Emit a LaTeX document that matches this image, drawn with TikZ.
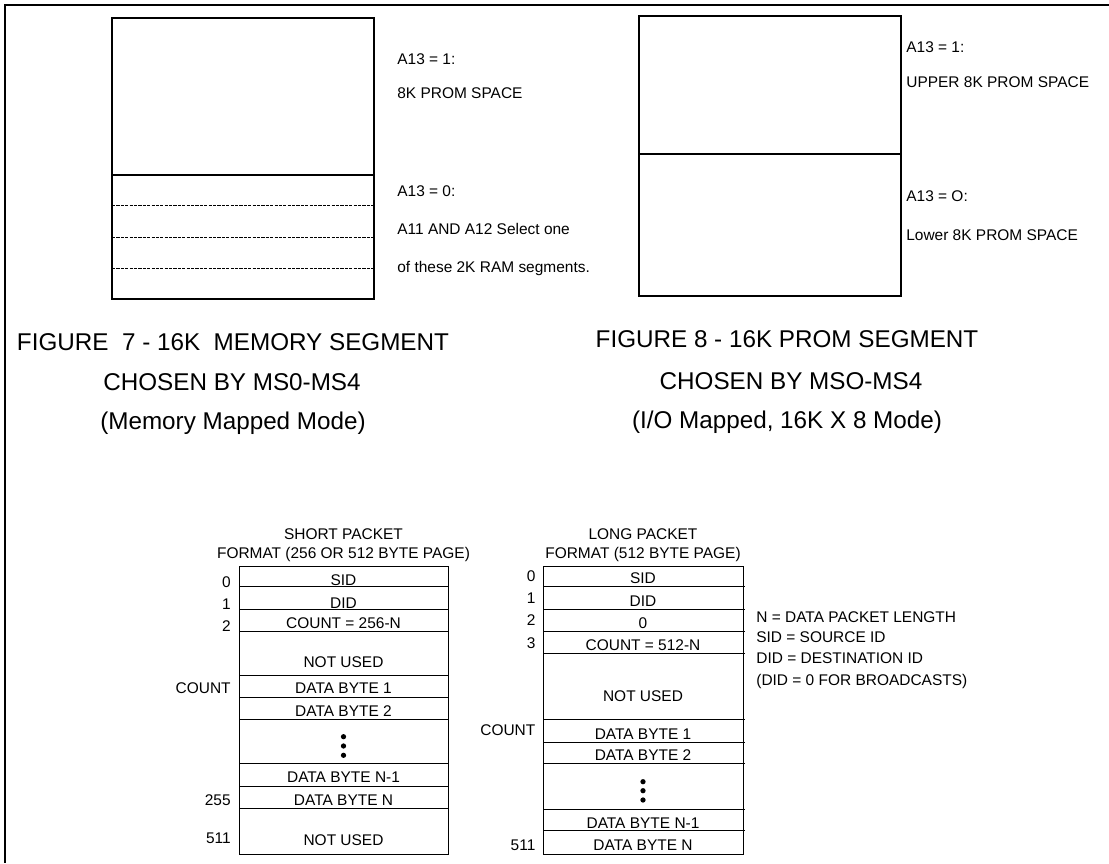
\documentclass[tikz,border=0pt]{standalone}
\usepackage{fontspec}
\setmainfont{Liberation Sans}
\tikzset{
  frame/.style={draw=black,line width=1.1pt},
  segbox/.style={draw=black,line width=0.9pt},
  ramline/.style={draw=black,line width=0.35pt,dash pattern=on 1.8pt off 0.7pt},
  pktbox/.style={draw=black,line width=0.55pt},
  note/.style={inner sep=0pt,anchor=base west,font=\fontsize{8.8}{10}\selectfont},
  cell/.style={inner sep=0pt,anchor=base,font=\fontsize{8.8}{10}\selectfont},
  offset/.style={inner sep=0pt,anchor=base east,font=\fontsize{8.8}{10}\selectfont},
  caption/.style={inner sep=0pt,anchor=base,font=\fontsize{13.8}{16}\selectfont},
  dot/.style={circle,fill=black,inner sep=0pt,minimum size=3pt}
}

\begin{document}
\begin{tikzpicture}[x=0.02cm,y=-0.02cm]
  \useasboundingbox (0,0) rectangle (1109,863);
  \draw[frame] (1109,5) -- (5,5) -- (5,863);

  % figure 7: memory segment
  \draw[segbox] (112,18) rectangle (374,299);
  \draw[segbox] (112,175) -- (374,175);
  \foreach \y in {205,237,268}
    \draw[ramline] (112,\y) -- (374,\y);
  \node[note] (m one) at (397,64) {A13 = 1:};
  \node[note] (m prom) at (397,98) {8K PROM SPACE};
  \node[note] (m zero) at (397,196) {A13 = 0:};
  \node[note] (m sel) at (397,234) {A11 AND A12 Select one};
  \node[note] (m ram) at (397,272) {of these 2K RAM segments.};
  \node[caption] (cap7a) at (233,350) {FIGURE\ \ 7 - 16K\ \ MEMORY SEGMENT};
  \node[caption] (cap7b) at (232,390) {CHOSEN BY MS0-MS4};
  \node[caption] (cap7c) at (233,429) {(Memory Mapped Mode)};

  % figure 8: prom segment
  \draw[segbox] (639,16) rectangle (901,296);
  \draw[segbox] (639,154) -- (901,154);
  \node[note] (p one) at (906,52.7) {A13 = 1:};
  \node[note] (p up) at (906,87) {UPPER 8K PROM SPACE};
  \node[note] (p zero) at (906,201.5) {A13 = O:};
  \node[note] (p low) at (906,240) {Lower 8K PROM SPACE};
  \node[caption] (cap8a) at (787,347) {FIGURE 8 - 16K PROM SEGMENT};
  \node[caption] (cap8b) at (791,389) {CHOSEN BY MSO-MS4};
  \node[caption] (cap8c) at (787,428) {(I/O Mapped, 16K X 8 Mode)};

  % short packet
  \node[cell] (s title) at (343.5,539) {SHORT PACKET};
  \node[cell] (s fmt) at (343.5,558) {FORMAT (256 OR 512 BYTE PAGE)};
  \draw[pktbox] (239,566) rectangle (448,854);
  \foreach \y in {586,609,631,675,697,719,763,786,808}
    \draw[pktbox] (239,\y) -- (448,\y);
  \node[cell] (s sid) at (343.5,585.5) {SID};
  \node[cell] (s did) at (343.5,608.5) {DID};
  \node[cell] (s cnt) at (343.5,628) {COUNT = 256-N};
  \node[cell] (s nu1) at (343.5,667) {NOT USED};
  \node[cell] (s b1) at (343.5,693) {DATA BYTE 1};
  \node[cell] (s b2) at (343.5,716) {DATA BYTE 2};
  \foreach \y in {736.7,746,755.3}
    \node[dot] at (343.5,\y) {};
  \node[cell] (s bn1) at (343.5,782.5) {DATA BYTE N-1};
  \node[cell] (s bn) at (343.5,805) {DATA BYTE N};
  \node[cell] (s nu2) at (343.5,845) {NOT USED};
  \node[offset] (s o0) at (231,587) {0};
  \node[offset] (s o1) at (231,609) {1};
  \node[offset] (s o2) at (231,631.5) {2};
  \node[offset] (s oc) at (231,693) {COUNT};
  \node[offset] (s o255) at (231,805) {255};
  \node[offset] (s o511) at (231,843) {511};

  % long packet
  \node[cell] (l title) at (643,539) {LONG PACKET};
  \node[cell] (l fmt) at (643,558) {FORMAT (512 BYTE PAGE)};
  \draw[pktbox] (543,566) rectangle (743,854);
  \foreach \y in {586,609,631,653,719,742,763,809,830}
    \draw[pktbox] (543,\y) -- (745,\y);
  \node[cell] (l sid) at (643,583) {SID};
  \node[cell] (l did) at (643,606.5) {DID};
  \node[cell] (l zero) at (643,628) {0};
  \node[cell] (l cnt) at (643,650) {COUNT = 512-N};
  \node[cell] (l nu) at (643,701) {NOT USED};
  \node[cell] (l b1) at (643,739) {DATA BYTE 1};
  \node[cell] (l b2) at (643,760.5) {DATA BYTE 2};
  \foreach \y in {781.7,790.7,800}
    \node[dot] at (643,\y) {};
  \node[cell] (l bn1) at (643,828) {DATA BYTE N-1};
  \node[cell] (l bn) at (643,850.5) {DATA BYTE N};
  \node[offset] (l o0) at (535.7,581.7) {0};
  \node[offset] (l o1) at (535.7,603.3) {1};
  \node[offset] (l o2) at (535.7,625.7) {2};
  \node[offset] (l o3) at (535.7,648) {3};
  \node[offset] (l oc) at (535.7,735.7) {COUNT};
  \node[offset] (l o511) at (535.7,850) {511};

  % legend
  \node[note] (key n) at (756,622.7) {N = DATA PACKET LENGTH};
  \node[note] (key sid) at (756,642.7) {SID = SOURCE ID};
  \node[note] (key did) at (756,663) {DID = DESTINATION ID};
  \node[note] (key bc) at (756,685.5) {(DID = 0 FOR BROADCASTS)};
\end{tikzpicture}
\end{document}
